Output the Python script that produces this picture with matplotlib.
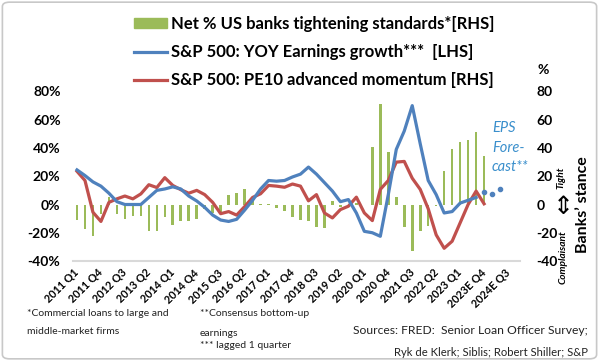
import matplotlib
matplotlib.use('Agg')
import matplotlib.pyplot as plt
import numpy as np
from matplotlib.patches import Patch, FancyBboxPatch
from matplotlib.lines import Line2D

plt.rcParams['font.family'] = ['Lato', 'DejaVu Sans']

# quarterly data, 2011 Q1 .. 2024E Q4
n_quarters = 56
tick_labels = ['2011 Q1', '2011 Q4', '2012 Q3', '2013 Q2', '2014 Q1', '2014 Q4', '2015 Q3',
               '2016 Q2', '2017 Q1', '2017 Q4', '2018 Q3', '2019 Q2', '2020 Q1', '2020 Q4',
               '2021 Q3', '2022 Q2', '2023 Q1', '2023E Q4', '2024E Q3']

# net % of banks tightening standards (RHS), 2011 Q1 .. 2023 Q4
tightening = [-11, -17, -22, -7, 5, -7, -10, -8, -8, -19, -18.5, -9, -14.5, -11.5, -11.5, -10,
              -3, -6, -5, 7, 8, 11, 3, 0.5, 0.5, -2.5, -4.5, -8.5, -11, -12, -16, -16.5,
              2.5, -2, -2, 1, 0, 41, 71.5, 37.5, 5, -16, -33, -18.5, -15, -1,
              24, 39, 44.5, 46, 51, 34]

# S&P 500 YOY earnings growth, lagged 1 quarter (LHS, %)
eps_growth = [24.5, 20.5, 16, 13, 8, 2, 0, 0, 0, 5, 10, 11, 12.5, 11, 6, 2.5,
              -2, -7.5, -11, -12, -10.5, -4, 3, 11, 17, 16.5, 17, 19.5, 21.5, 26.5, 21.5, 15.5,
              9.5, 2, 3.5, -6, -19, -20, -22.5, 7, 39, 52, 70, 43, 17, 7,
              -6, -5, 1, 3, 5]
# consensus forecast points
eps_forecast = [9, 7.5, 11]

# S&P 500 PE10 advanced momentum (RHS)
pe10_mom = [23.5, 17, -5.5, -12, 1.5, 4, 6, 4, 7.5, 14, 12, 19, 13.5, 10.5, 8, 10,
            7, 1.5, -6.5, -5, -7.5, -1.5, 5, 7.6, 13.5, 13, 12.2, 14.5, 13, 2.6, 7, -6,
            -9.5, -3.6, -1.2, 5.2, -6, -11.4, 10.7, 17, 30, 30.5, 18.6, 10.7, -3, -21.5,
            -31, -26, -13, 0, 9.5, 0.5]

green = '#9BBB59'
blue = '#4F81BD'
red = '#C0504D'
eps_col = '#3A8FCC'

fig = plt.figure(figsize=(5.99, 3.61), dpi=100)
ax = fig.add_axes([73/599, 100/361, 447/599, 169.5/361])
ax2 = ax.twinx()

x_bar = np.arange(len(tightening))
ax2.bar(x_bar, tightening, width=0.32, color=green, zorder=1)
ax2.plot(np.arange(len(pe10_mom)), pe10_mom, color=red, lw=2.3, zorder=2)

x_eps = np.arange(len(eps_growth))
ax.plot(x_eps, eps_growth, color=blue, lw=2.3, zorder=3)
x_fc = np.arange(len(eps_growth), len(eps_growth) + len(eps_forecast))
ax.plot(x_fc, eps_forecast, ls='none', marker='o', ms=3, color=blue, zorder=3)

ax.set_zorder(ax2.get_zorder() + 1)
ax.patch.set_visible(False)

for a in (ax, ax2):
    a.set_ylim(-40, 80)
    a.set_xlim(-0.5, n_quarters - 0.5)
    for s in a.spines.values():
        s.set_visible(False)
ax.spines['bottom'].set_visible(True)
ax.spines['bottom'].set_color('#d9d9d9')
ax.spines['bottom'].set_linewidth(1.5)

yt = [-40, -20, 0, 20, 40, 60, 80]
ax.set_yticks(yt)
ax.set_yticklabels([f'{v}%' for v in yt], fontweight='bold', fontsize=10)
ax.tick_params(axis='y', length=0, pad=9)
ax2.set_yticks(yt)
ax2.set_yticklabels([str(v) for v in yt], fontweight='bold', fontsize=10)
ax2.tick_params(axis='y', length=0, pad=12)

ax.set_xticks(np.arange(0, n_quarters, 3))
ax.set_xticklabels(tick_labels, rotation=45, ha='right', va='center',
                   rotation_mode='anchor', fontweight='bold', fontsize=7.8)
ax.tick_params(axis='x', length=0, pad=7)
ax2.tick_params(axis='x', length=0)

# legend
handles = [Patch(color=green),
           Line2D([], [], color=blue, lw=2.3),
           Line2D([], [], color=red, lw=2.3)]
labels = ['Net % US banks tightening standards*[RHS]',
          'S&P 500: YOY Earnings growth***  [LHS]',
          'S&P 500: PE10 advanced momentum [RHS]']
leg = fig.legend(handles, labels, loc='upper left', bbox_to_anchor=(119/599, 1 - 1/361),
                 frameon=False, handlelength=2.0, handleheight=0.5, handletextpad=0.2,
                 labelspacing=0.72, prop={'weight': 'bold', 'size': 12})

# right side annotations
fig.text(543/599, 1 - 70/361, '%', fontsize=10, fontweight='bold', ha='center', va='center')
fig.text(583/599, 1 - 205/361, 'Banks’ stance', rotation=90, fontsize=11.5,
         fontweight='bold', ha='center', va='center')
fig.text(561/599, 1 - 178/361, 'Tight', rotation=90, fontsize=7.3, style='italic',
         fontweight='bold', ha='center', va='center')
fig.text(563/599, 1 - 257/361, 'Complaisant', rotation=90, fontsize=7.3, style='italic',
         fontweight='bold', ha='center', va='center')
fig.text(563/599, 1 - 207/361, '⇕', fontsize=18, family='DejaVu Sans',
         ha='center', va='center')
fig.text(492/599, 1 - 121/361, 'EPS\nFore-\ncast**', fontsize=10.5, style='italic',
         color=eps_col, ha='left', va='top', linespacing=1.5)

# footnotes
fig.text(27/599, 1 - 309/361, '*Commercial loans to large and\nmiddle-market firms',
         fontsize=7.5, color='#222222', ha='left', va='top', linespacing=2.3)
fig.text(200/599, 1 - 309/361, '**Consensus bottom-up\nearnings',
         fontsize=7.5, color='#222222', ha='left', va='top', linespacing=2.6)
fig.text(200/599, 1 - 346/361, '*** lagged 1 quarter',
         fontsize=7.5, color='#222222', ha='left', va='center')
fig.text(588/599, 1 - 330/361, 'Sources: FRED:  Senior Loan Officer Survey;',
         fontsize=8.7, color='#222222', ha='right', va='center')
fig.text(588/599, 1 - 352/361, 'Ryk de Klerk; Siblis; Robert Shiller; S&P',
         fontsize=8.1, color='#222222', ha='right', va='center')

fig.patches.append(FancyBboxPatch((0.004, 0.006), 0.992, 0.988,
                                  boxstyle='round,pad=0,rounding_size=0.012',
                                  transform=fig.transFigure, fill=False,
                                  ec='#c8c8c8', lw=1.2))

fig.savefig('out.png', dpi=100)
